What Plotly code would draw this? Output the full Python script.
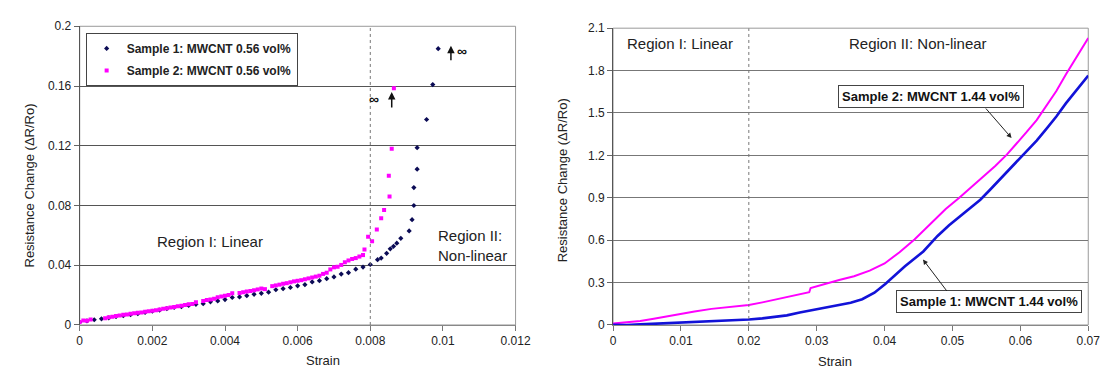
import plotly.graph_objects as go

# ---- Left panel: MWCNT 0.56 vol% (strain vs. resistance change) ----
s1_strain = [0.0000, 0.0002, 0.0004, 0.0006, 0.0008, 0.0010, 0.0012, 0.0014, 0.0016, 0.0018,
             0.0020, 0.0022, 0.0024, 0.0026, 0.0028, 0.0030, 0.0032, 0.0034, 0.0036, 0.0038,
             0.0040, 0.0042, 0.0044, 0.0046, 0.0048, 0.0050, 0.0052, 0.0054, 0.0056, 0.0058,
             0.0060, 0.0062, 0.0064, 0.0066, 0.0068, 0.0070, 0.0072, 0.0074, 0.0076, 0.0078,
             0.0080, 0.0082, 0.0083, 0.00845, 0.00855, 0.00864, 0.00873, 0.00884, 0.00907,
             0.00915, 0.0092, 0.0092, 0.00929, 0.00929, 0.00955, 0.00972, 0.00987]
s1_dr = [0.0020, 0.0028, 0.0035, 0.0041, 0.0048, 0.0056, 0.0062, 0.0069, 0.0076, 0.0084,
         0.0092, 0.0100, 0.0110, 0.0117, 0.0122, 0.0131, 0.0138, 0.0143, 0.0155, 0.0161,
         0.0170, 0.0184, 0.0188, 0.0196, 0.0205, 0.0212, 0.0220, 0.0236, 0.0243, 0.0251,
         0.0262, 0.0270, 0.0288, 0.0297, 0.0310, 0.0322, 0.0341, 0.0350, 0.0374, 0.0388,
         0.0405, 0.0437, 0.0448, 0.0480, 0.0510, 0.0527, 0.0548, 0.0580, 0.0630,
         0.0705, 0.0800, 0.0920, 0.1043, 0.1187, 0.1376, 0.1610, 0.1850]

s2_strain = [0.0000, 0.0001, 0.0002, 0.0003, 0.0007, 0.0008, 0.0009, 0.0010, 0.0011, 0.0012,
             0.0013, 0.0014, 0.0015, 0.0016, 0.0017, 0.0018, 0.0019, 0.0020, 0.0021, 0.0022,
             0.0023, 0.0024, 0.0025, 0.0026, 0.0027, 0.0028, 0.0029, 0.0030, 0.0031, 0.0032,
             0.0034, 0.0035, 0.0036, 0.0037, 0.0038, 0.0039, 0.0040, 0.0041, 0.0042, 0.0044,
             0.0045, 0.0046, 0.0047, 0.0048, 0.0049, 0.0050, 0.0051, 0.0053, 0.0054, 0.0055,
             0.0056, 0.0057, 0.0058, 0.0059, 0.0060, 0.0061, 0.0062, 0.0063, 0.0064, 0.0065,
             0.0066, 0.0067, 0.0068, 0.0069, 0.0070, 0.0071, 0.0072, 0.0073, 0.0074, 0.0075,
             0.0076, 0.0077, 0.0078, 0.00784, 0.00794, 0.00805, 0.00818, 0.0083, 0.00838,
             0.00853, 0.00851, 0.00859, 0.00865]
s2_dr = [0.0020, 0.0030, 0.0028, 0.0036, 0.0045, 0.0052, 0.0055, 0.0060, 0.0063, 0.0068,
         0.0070, 0.0075, 0.0078, 0.0082, 0.0084, 0.0089, 0.0092, 0.0096, 0.0098, 0.0104,
         0.0108, 0.0112, 0.0117, 0.0120, 0.0126, 0.0128, 0.0134, 0.0138, 0.0140, 0.0152,
         0.0160, 0.0168, 0.0170, 0.0176, 0.0186, 0.0190, 0.0196, 0.0200, 0.0212, 0.0214,
         0.0220, 0.0224, 0.0228, 0.0232, 0.0238, 0.0244, 0.0240, 0.0260, 0.0265, 0.0270,
         0.0276, 0.0280, 0.0286, 0.0292, 0.0296, 0.0300, 0.0306, 0.0312, 0.0318, 0.0324,
         0.0330, 0.0342, 0.0350, 0.0372, 0.0386, 0.0390, 0.0402, 0.0420, 0.0432, 0.0442,
         0.0448, 0.0458, 0.0468, 0.0505, 0.0590, 0.0560, 0.0640, 0.0714, 0.0770,
         0.0860, 0.1000, 0.1180, 0.1585]

left_xticks = [0, 0.002, 0.004, 0.006, 0.008, 0.010, 0.012]
left_xlabels = ["0", "0.002", "0.004", "0.006", "0.008", "0.01", "0.012"]
left_yticks = [0, 0.04, 0.08, 0.12, 0.16, 0.2]
left_ylabels = ["0", "0.04", "0.08", "0.12", "0.16", "0.2"]

# ---- Right panel: MWCNT 1.44 vol% ----
r1_strain = [0, 0.002, 0.004, 0.006, 0.008, 0.010, 0.012, 0.014, 0.016, 0.018, 0.020, 0.022,
             0.024, 0.0256, 0.0275, 0.030, 0.0319, 0.0333, 0.0350, 0.0367, 0.0385, 0.0401,
             0.0415, 0.0430, 0.0457, 0.0478, 0.0495, 0.0512, 0.0527, 0.0541, 0.0555, 0.0568,
             0.0580, 0.0595, 0.0609, 0.0624, 0.0638, 0.0653, 0.0667, 0.0683, 0.0700]
r1_dr = [0.002, 0.000, 0.004, 0.008, 0.012, 0.016, 0.020, 0.024, 0.028, 0.033, 0.039, 0.047,
         0.057, 0.068, 0.088, 0.110, 0.128, 0.140, 0.158, 0.182, 0.228, 0.290,
         0.350, 0.415, 0.520, 0.630, 0.705, 0.773, 0.830, 0.886, 0.955, 1.020,
         1.085, 1.155, 1.227, 1.305, 1.386, 1.475, 1.568, 1.665, 1.765]

r2_strain = [0, 0.002, 0.004, 0.006, 0.008, 0.010, 0.012, 0.0145, 0.017, 0.020, 0.022, 0.0242,
             0.0265, 0.0289, 0.0291, 0.031, 0.0333, 0.0355, 0.0378, 0.0400, 0.0422, 0.0444,
             0.0460, 0.0473, 0.0490, 0.0510, 0.0530, 0.0546, 0.0563, 0.0580, 0.0595, 0.0609,
             0.0624, 0.0638, 0.0653, 0.0667, 0.0683, 0.0700]
r2_dr = [0.011, 0.018, 0.028, 0.044, 0.062, 0.079, 0.095, 0.114, 0.126, 0.141, 0.160, 0.182,
         0.205, 0.232, 0.262, 0.285, 0.318, 0.345, 0.385, 0.435, 0.515, 0.605,
         0.680, 0.745, 0.820, 0.900, 0.985, 1.050, 1.125, 1.205, 1.285, 1.364,
         1.450, 1.545, 1.655, 1.773, 1.900, 2.030]

right_xticks = [0, 0.01, 0.02, 0.03, 0.04, 0.05, 0.06, 0.07]
right_xlabels = ["0", "0.01", "0.02", "0.03", "0.04", "0.05", "0.06", "0.07"]
right_yticks = [0, 0.3, 0.6, 0.9, 1.2, 1.5, 1.8, 2.1]
right_ylabels = ["0", "0.3", "0.6", "0.9", "1.2", "1.5", "1.8", "2.1"]

FONT = "Liberation Sans, Arial, sans-serif"
NAVY = "#0b0b55"
MAGENTA = "#ff00ff"
BLUE = "#1212d8"

fig = go.Figure()

fig.add_trace(go.Scatter(
    x=s1_strain, y=s1_dr, mode="markers", name="Sample 1: MWCNT 0.56 vol%",
    legendgroup="s1",
    marker=dict(symbol="diamond", size=4, color=NAVY),
    xaxis="x", yaxis="y"))
fig.add_trace(go.Scatter(
    x=s2_strain, y=s2_dr, mode="markers", name="Sample 2: MWCNT 0.56 vol%",
    legendgroup="s2",
    marker=dict(symbol="square", size=4, color=MAGENTA),
    xaxis="x", yaxis="y"))

fig.add_trace(go.Scatter(
    x=r2_strain, y=r2_dr, mode="lines", showlegend=False,
    line=dict(color=MAGENTA, width=2), xaxis="x2", yaxis="y2"))
fig.add_trace(go.Scatter(
    x=r1_strain, y=r1_dr, mode="lines", showlegend=False,
    line=dict(color=BLUE, width=2.6), xaxis="x2", yaxis="y2"))

tickfont = dict(family=FONT, size=12, color="#222")
common_x = dict(showgrid=False, zeroline=False, showline=True, linecolor="#888",
                ticks="outside", ticklen=5, tickcolor="#777", tickfont=tickfont)
common_y = dict(showgrid=True, gridcolor="#555", gridwidth=1, zeroline=False,
                showline=True, linecolor="#555", ticks="outside", ticklen=5,
                tickcolor="#666", tickfont=tickfont)

fig.update_layout(
    width=1117, height=385,
    margin=dict(l=0, r=0, t=0, b=0),
    paper_bgcolor="white", plot_bgcolor="white",
    font=dict(family=FONT, color="#222"),
    xaxis=dict(domain=[0.0698, 0.4664], range=[0, 0.012], tickvals=left_xticks,
               ticktext=left_xlabels, anchor="y", **common_x),
    yaxis=dict(domain=[0.1429, 0.948], range=[0, 0.2], tickvals=left_yticks,
               ticktext=left_ylabels, anchor="x", **common_y),
    xaxis2=dict(domain=[0.5551, 0.9875], range=[0, 0.07], tickvals=right_xticks,
                ticktext=right_xlabels, anchor="y2", **common_x),
    yaxis2=dict(domain=[0.1429, 0.9429], range=[0, 2.1], tickvals=right_yticks,
                ticktext=right_ylabels, anchor="x2", **dict(common_y, gridcolor="#777")),
    showlegend=True,
    legend=dict(x=0.0752, y=0.93, xanchor="left", yanchor="top",
                bgcolor="white", bordercolor="#444", borderwidth=1,
                font=dict(family=FONT, size=12, color="#222", weight="bold"),
                tracegroupgap=3, itemwidth=30),
)

# Plot frames and the region boundaries
shapes = []
for xa, ya in (("x", "y"), ("x2", "y2")):
    shapes.append(dict(type="rect", xref=f"{xa} domain", yref=f"{ya} domain",
                       x0=0, x1=1, y0=0, y1=1, line=dict(color="#999", width=1),
                       layer="below"))
shapes.append(dict(type="line", xref="x", yref="y", x0=0.008, x1=0.008, y0=0, y1=0.2,
                   line=dict(color="#777", width=1, dash="dot")))
shapes.append(dict(type="line", xref="x2", yref="y2", x0=0.02, x1=0.02, y0=0, y1=2.1,
                   line=dict(color="#777", width=1, dash="dot")))
fig.update_layout(shapes=shapes)

ann = []
region_font = dict(family=FONT, size=15, color="#222")
ann.append(dict(xref="x", yref="y", x=0.0036, y=0.056, text="Region I: Linear",
                showarrow=False, font=region_font))
ann.append(dict(xref="x", yref="y", x=0.0098, y=0.053, text="Region II:<br>Non-linear",
                showarrow=False, xanchor="left", align="left", font=region_font))
ann.append(dict(xref="x2", yref="y2", x=0.0099, y=1.99, text="Region I: Linear",
                showarrow=False, font=region_font))
ann.append(dict(xref="x2", yref="y2", x=0.0449, y=1.99, text="Region II: Non-linear",
                showarrow=False, font=region_font))

# Divergence markers (resistance -> infinity)
inf_font = dict(family=FONT, size=14, color="#111", weight="bold")
ann.append(dict(xref="x", yref="y", x=0.0081, y=0.1516, text="∞", showarrow=False,
                font=inf_font))
ann.append(dict(xref="x", yref="y", x=0.00859, y=0.156, text="", showarrow=True,
                ax=0, ay=17, arrowhead=2, arrowsize=1, arrowwidth=1.5, arrowcolor="#111"))
ann.append(dict(xref="x", yref="y", x=0.01053, y=0.1837, text="∞", showarrow=False,
                font=inf_font))
ann.append(dict(xref="x", yref="y", x=0.01022, y=0.187, text="", showarrow=True,
                ax=0, ay=16, arrowhead=2, arrowsize=1, arrowwidth=1.5, arrowcolor="#111"))

# Right-panel series labels with leader arrows
box_font = dict(family=FONT, size=13, color="#111", weight="bold")
ann.append(dict(xref="x2", yref="y2", x=0.04681, y=1.616, text="Sample 2: MWCNT 1.44 vol%",
                showarrow=False, font=box_font, bgcolor="white", bordercolor="#444",
                borderwidth=1, borderpad=3))
ann.append(dict(xref="x2", yref="y2", x=0.0587, y=1.323, text="", showarrow=True,
                ax=-27, ay=-31, arrowhead=2, arrowsize=1, arrowwidth=1, arrowcolor="#222"))
ann.append(dict(xref="x2", yref="y2", x=0.05543, y=0.1636, text="Sample 1: MWCNT 1.44 vol%",
                showarrow=False, font=box_font, bgcolor="white", bordercolor="#444",
                borderwidth=1, borderpad=3))
ann.append(dict(xref="x2", yref="y2", x=0.04565, y=0.4636, text="", showarrow=True,
                ax=25, ay=33, arrowhead=2, arrowsize=1, arrowwidth=1, arrowcolor="#222"))

# Axis titles
title_font = dict(family=FONT, size=13, color="#222")
ann.append(dict(xref="paper", yref="paper", x=306 / 1117, y=1 - 377 / 385,
                text="Strain", showarrow=False, font=title_font))
ann.append(dict(xref="paper", yref="paper", x=865 / 1117, y=1 - 378 / 385,
                text="Strain", showarrow=False, font=title_font))
ann.append(dict(xref="paper", yref="paper", x=17 / 1117, y=1 - 185 / 385,
                text="Resistance Change (ΔR/Ro)", textangle=-90, showarrow=False,
                font=title_font))
ann.append(dict(xref="paper", yref="paper", x=569 / 1117, y=1 - 180 / 385,
                text="Resistance Change (ΔR/Ro)", textangle=-90, showarrow=False,
                font=title_font))
fig.update_layout(annotations=ann)

fig.write_html("out.html")
